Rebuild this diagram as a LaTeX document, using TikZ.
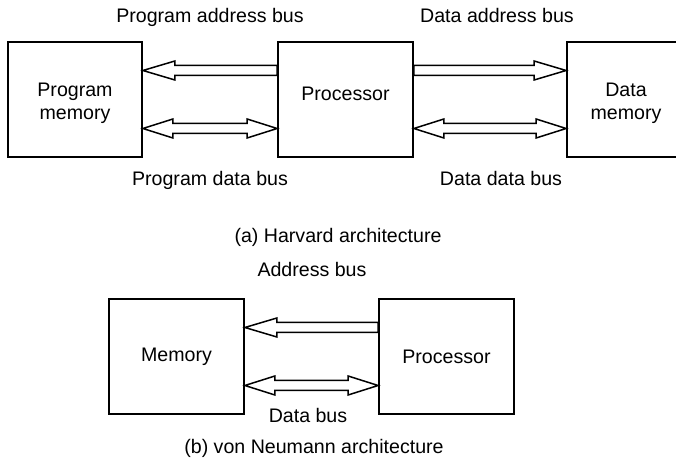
\documentclass[tikz,border=0pt]{standalone}
\usepackage{fontspec}
\setmainfont{Liberation Sans}
\usepackage{tikz}
\usetikzlibrary{calc,positioning}

% hollow one-headed bus: tail anchor, tip anchor, vertical offset
\newcommand\onebus[3]{%
  \path[bus] let \p1=($(#1)+(0,#3)$), \p2=($(#2)+(0,#3)$),
    \p3=($(#2)!16pt!(#1)$) in
    (\x1,\y1+2.5pt) -- (\x3,\y1+2.5pt) -- (\x3,\y1+4.75pt) -- (\x2,\y2)
    -- (\x3,\y1-4.75pt) -- (\x3,\y1-2.5pt) -- (\x1,\y1-2.5pt) -- cycle;}
% hollow two-headed bus
\newcommand\twobus[3]{%
  \path[bus] let \p1=($(#1)+(0,#3)$), \p2=($(#2)+(0,#3)$),
    \p3=($(#1)!15pt!(#2)$), \p4=($(#2)!15pt!(#1)$) in
    (\x1,\y1) -- (\x3,\y1+4.75pt) -- (\x3,\y1+2.5pt) -- (\x4,\y1+2.5pt)
    -- (\x4,\y1+4.75pt) -- (\x2,\y2) -- (\x4,\y1-4.75pt) -- (\x4,\y1-2.5pt)
    -- (\x3,\y1-2.5pt) -- (\x3,\y1-4.75pt) -- cycle;}

\begin{document}
\begin{tikzpicture}[
    x=0.5pt, y=-0.5pt,
    font=\fontsize{9.8pt}{11.5pt}\selectfont,
    unit/.style={draw, line width=0.9pt, align=center, minimum width=67.5pt,
                 minimum height=57.5pt, inner sep=0pt},
    inside/.style={label={[align=center, inner sep=0pt, yshift=-2pt]center:#1}},
    lbl/.style={inner sep=0pt, anchor=base}]

  \tikzset{bus/.style={draw, line width=0.75pt, line join=miter}}

  \useasboundingbox (0,0) rectangle (676,464);
  \clip (0,0) rectangle (676,464);

  % (a) Harvard
  \node[unit, minimum width=67pt, inside={Program\\memory}] (pm) at (75,99.5) {};
  \node[unit, text depth=6pt] (cpu) at (345.5,99.5) {Processor};
  \node[unit, minimum width=59pt, inside={Data\\memory}] (dm) at (626,99.5) {};

  \onebus{cpu.west}{pm.east}{-29}
  \twobus{pm.east}{cpu.west}{29}
  \onebus{cpu.east}{dm.west}{-29}
  \twobus{cpu.east}{dm.west}{29}

  \node[lbl] (pab) at (210,23) {Program address bus};
  \node[lbl] (dab) at (497,23) {Data address bus};
  \node[lbl] (pdb) at (210,186) {Program data bus};
  \node[lbl] (ddb) at (501,186) {Data data bus};
  \node[lbl] (capa) at (338,243) {(a) Harvard architecture};

  % (b) von Neumann
  \node[unit] (mem) at (176.5,356.5) {Memory};
  \node[unit] (cpub) at (446.5,356.5) {Processor};

  \onebus{cpub.west}{mem.east}{-29}
  \twobus{mem.east}{cpub.west}{29}

  \node[lbl] (ab) at (312,277) {Address bus};
  \node[lbl] (db) at (308,423) {Data bus};
  \node[lbl] (capb) at (314,454) {(b) von Neumann architecture};
\end{tikzpicture}
\end{document}
